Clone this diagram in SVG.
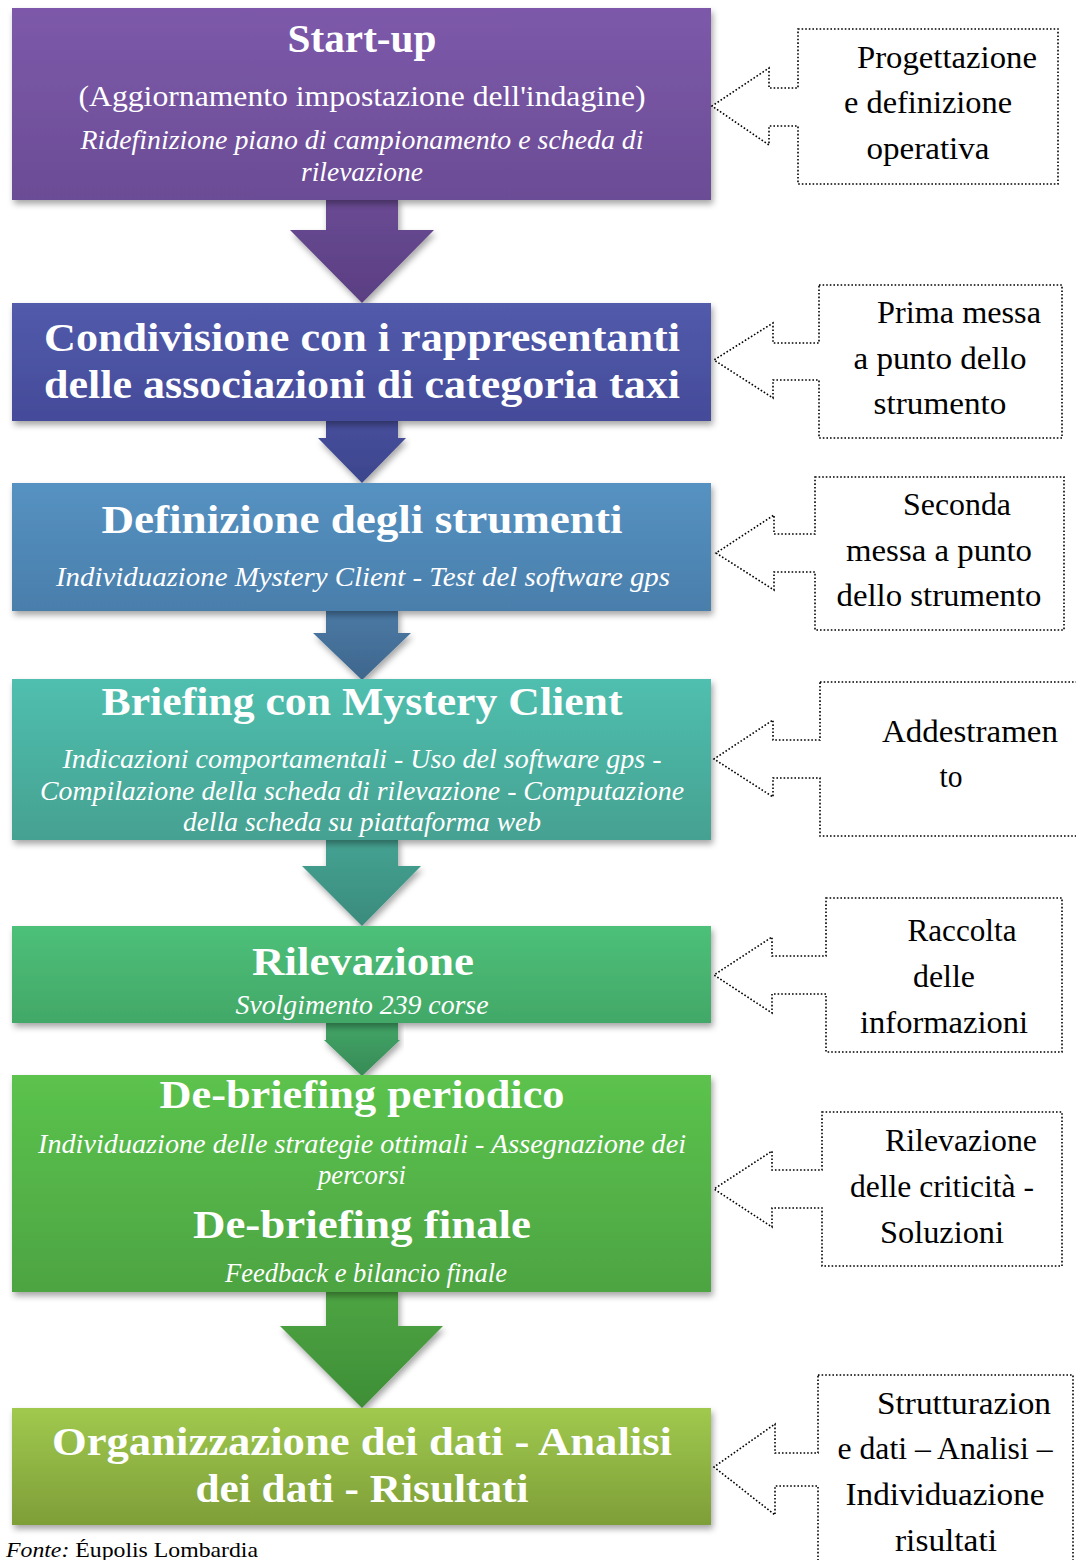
<svg xmlns="http://www.w3.org/2000/svg" width="1076" height="1560" viewBox="0 0 1076 1560">
<defs>
<style>
.h{font-family:"Liberation Serif","DejaVu Serif",serif;font-weight:bold;fill:#fff;text-anchor:middle;font-size:40px}
.s{font-family:"Liberation Serif","DejaVu Serif",serif;fill:#fff;text-anchor:middle;font-size:29px}
.i{font-family:"Liberation Serif","DejaVu Serif",serif;font-style:italic;fill:#fff;text-anchor:middle;font-size:28px}
.c{font-family:"Liberation Serif","DejaVu Serif",serif;fill:#000;text-anchor:middle;font-size:31px}
.co{fill:#fff;stroke:#000;stroke-width:1.6;stroke-dasharray:1.6 2}
</style>
<filter id="sh" x="-5%" y="-10%" width="110%" height="130%">
<feDropShadow dx="2" dy="4" stdDeviation="3" flood-color="#000" flood-opacity="0.35"/>
</filter>
<linearGradient id="g1" x1="0" y1="0" x2="0" y2="1"><stop offset="0" stop-color="#7d59aa"/><stop offset="1" stop-color="#6b4c95"/></linearGradient>
<linearGradient id="a1" x1="0" y1="0" x2="0" y2="1"><stop offset="0" stop-color="#6a4b94"/><stop offset="1" stop-color="#5a3e82"/></linearGradient>
<linearGradient id="g2" x1="0" y1="0" x2="0" y2="1"><stop offset="0" stop-color="#525bab"/><stop offset="1" stop-color="#444b99"/></linearGradient>
<linearGradient id="a2" x1="0" y1="0" x2="0" y2="1"><stop offset="0" stop-color="#474f9c"/><stop offset="1" stop-color="#3c458c"/></linearGradient>
<linearGradient id="g3" x1="0" y1="0" x2="0" y2="1"><stop offset="0" stop-color="#5592c2"/><stop offset="1" stop-color="#4a7eab"/></linearGradient>
<linearGradient id="a3" x1="0" y1="0" x2="0" y2="1"><stop offset="0" stop-color="#4a7aa5"/><stop offset="1" stop-color="#3f668d"/></linearGradient>
<linearGradient id="g4" x1="0" y1="0" x2="0" y2="1"><stop offset="0" stop-color="#50bfaf"/><stop offset="1" stop-color="#45a191"/></linearGradient>
<linearGradient id="a4" x1="0" y1="0" x2="0" y2="1"><stop offset="0" stop-color="#45a393"/><stop offset="1" stop-color="#3a8b7c"/></linearGradient>
<linearGradient id="g5" x1="0" y1="0" x2="0" y2="1"><stop offset="0" stop-color="#4dc079"/><stop offset="1" stop-color="#42a868"/></linearGradient>
<linearGradient id="a5" x1="0" y1="0" x2="0" y2="1"><stop offset="0" stop-color="#42a567"/><stop offset="1" stop-color="#378b56"/></linearGradient>
<linearGradient id="g6" x1="0" y1="0" x2="0" y2="1"><stop offset="0" stop-color="#5bc34d"/><stop offset="1" stop-color="#4da442"/></linearGradient>
<linearGradient id="a6" x1="0" y1="0" x2="0" y2="1"><stop offset="0" stop-color="#4ea543"/><stop offset="1" stop-color="#3e8e36"/></linearGradient>
<linearGradient id="g7" x1="0" y1="0" x2="0" y2="1"><stop offset="0" stop-color="#a0c94e"/><stop offset="1" stop-color="#7e9e38"/></linearGradient>
</defs>
<rect width="1076" height="1560" fill="#fff"/>

<g id="connectors">
<path filter="url(#sh)" fill="url(#a1)" d="M326,198 H398 V230 H434 L362,303 L290,230 H326 Z"/>
<path filter="url(#sh)" fill="url(#a2)" d="M326,419 H398 V438 H406 L362,483 L318,438 H326 Z"/>
<path filter="url(#sh)" fill="url(#a3)" d="M326,609 H398 V633 H411 L362,680 L313,633 H326 Z"/>
<path filter="url(#sh)" fill="url(#a4)" d="M326,838 H398 V866 H421 L362,926 L302,866 H326 Z"/>
<path filter="url(#sh)" fill="url(#a5)" d="M326,1021 H398 V1040 H400 L362,1076 L324,1040 H326 Z"/>
<path filter="url(#sh)" fill="url(#a6)" d="M326,1290 H398 V1326 H443 L362,1408 L280,1326 H326 Z"/>
</g>

<g id="n1">
<rect x="12" y="8" width="699" height="192" fill="url(#g1)" filter="url(#sh)"/>
<text class="h" x="362" y="52" font-size="38" textLength="149" lengthAdjust="spacingAndGlyphs">Start-up</text>
<text class="s" x="362" y="106" textLength="567" lengthAdjust="spacingAndGlyphs">(Aggiornamento impostazione dell'indagine)</text>
<text class="i" x="362" y="149" textLength="563" lengthAdjust="spacingAndGlyphs">Ridefinizione piano di campionamento e scheda di</text>
<text class="i" x="362" y="181" textLength="122" lengthAdjust="spacingAndGlyphs">rilevazione</text>
</g>

<g id="n2">
<rect x="12" y="303" width="699" height="118" fill="url(#g2)" filter="url(#sh)"/>
<text class="h" x="362" y="351" textLength="636" lengthAdjust="spacingAndGlyphs">Condivisione con i rappresentanti</text>
<text class="h" x="362" y="398" textLength="636" lengthAdjust="spacingAndGlyphs">delle associazioni di categoria taxi</text>
</g>

<g id="n3">
<rect x="12" y="483" width="699" height="128" fill="url(#g3)" filter="url(#sh)"/>
<text class="h" x="362" y="533" textLength="521" lengthAdjust="spacingAndGlyphs">Definizione degli strumenti</text>
<text class="i" x="363" y="586" textLength="614" lengthAdjust="spacingAndGlyphs">Individuazione Mystery Client - Test del software gps</text>
</g>

<g id="n4">
<rect x="12" y="679" width="699" height="161" fill="url(#g4)" filter="url(#sh)"/>
<text class="h" x="362" y="715" textLength="521" lengthAdjust="spacingAndGlyphs">Briefing con Mystery Client</text>
<text class="i" x="362" y="768" textLength="599" lengthAdjust="spacingAndGlyphs">Indicazioni comportamentali - Uso del software gps -</text>
<text class="i" x="362" y="800" textLength="644" lengthAdjust="spacingAndGlyphs">Compilazione della scheda di rilevazione - Computazione</text>
<text class="i" x="362" y="831" textLength="358" lengthAdjust="spacingAndGlyphs">della scheda su piattaforma web</text>
</g>

<g id="n5">
<rect x="12" y="926" width="699" height="97" fill="url(#g5)" filter="url(#sh)"/>
<text class="h" x="363" y="975" textLength="222" lengthAdjust="spacingAndGlyphs">Rilevazione</text>
<text class="i" x="362" y="1014" textLength="253" lengthAdjust="spacingAndGlyphs">Svolgimento 239 corse</text>
</g>

<g id="n6">
<rect x="12" y="1075" width="699" height="217" fill="url(#g6)" filter="url(#sh)"/>
<text class="h" x="362" y="1108" textLength="405" lengthAdjust="spacingAndGlyphs">De-briefing periodico</text>
<text class="i" x="362" y="1153" textLength="648" lengthAdjust="spacingAndGlyphs">Individuazione delle strategie ottimali - Assegnazione dei</text>
<text class="i" x="362" y="1184" textLength="88" lengthAdjust="spacingAndGlyphs">percorsi</text>
<text class="h" x="362" y="1238" textLength="338" lengthAdjust="spacingAndGlyphs">De-briefing finale</text>
<text class="i" x="366" y="1282" textLength="282" lengthAdjust="spacingAndGlyphs">Feedback e bilancio finale</text>
</g>

<g id="n7">
<rect x="12" y="1408" width="699" height="117" fill="url(#g7)" filter="url(#sh)"/>
<text class="h" x="362" y="1455" textLength="620" lengthAdjust="spacingAndGlyphs">Organizzazione dei dati - Analisi</text>
<text class="h" x="362" y="1502" textLength="333" lengthAdjust="spacingAndGlyphs">dei dati - Risultati</text>
</g>

<g id="caption">
<text x="6" y="1557" font-family="Liberation Serif, serif" font-size="22" fill="#000" textLength="252" lengthAdjust="spacingAndGlyphs"><tspan font-style="italic">Fonte:</tspan> Éupolis Lombardia</text>
</g>

<g id="c1">
<path class="co" d="M798,29 H1058 V184 H798 V126 H769 V145 L712,106 L769,68 V88 H798 Z"/>
<text class="c" x="947" y="68" textLength="180" lengthAdjust="spacingAndGlyphs">Progettazione</text>
<text class="c" x="928" y="113" textLength="168" lengthAdjust="spacingAndGlyphs">e definizione</text>
<text class="c" x="928" y="159" textLength="123" lengthAdjust="spacingAndGlyphs">operativa</text>
</g>
<g id="c2">
<path class="co" d="M819,285 H1062 V438 H819 V380 H773 V398 L714,360 L773,323 V343 H819 Z"/>
<text class="c" x="959" y="323" textLength="164" lengthAdjust="spacingAndGlyphs">Prima messa</text>
<text class="c" x="940" y="369" textLength="173" lengthAdjust="spacingAndGlyphs">a punto dello</text>
<text class="c" x="940" y="414" textLength="133" lengthAdjust="spacingAndGlyphs">strumento</text>
</g>
<g id="c3">
<path class="co" d="M815,477 H1064 V630 H815 V572 H774 V590 L716,553 L774,515 V534 H815 Z"/>
<text class="c" x="957" y="515" textLength="108" lengthAdjust="spacingAndGlyphs">Seconda</text>
<text class="c" x="939" y="561" textLength="186" lengthAdjust="spacingAndGlyphs">messa a punto</text>
<text class="c" x="939" y="606" textLength="205" lengthAdjust="spacingAndGlyphs">dello strumento</text>
</g>
<g id="c4">
<path class="co" d="M820,682 H1080 V836 H820 V778 H773 V797 L714,759 L773,720 V740 H820 Z"/>
<text class="c" x="970" y="742" textLength="176" lengthAdjust="spacingAndGlyphs">Addestramen</text>
<text class="c" x="951" y="787" textLength="23" lengthAdjust="spacingAndGlyphs">to</text>
</g>
<g id="c5">
<path class="co" d="M826,898 H1062 V1052 H826 V994 H772 V1013 L714,975 L772,937 V956 H826 Z"/>
<text class="c" x="962" y="941" textLength="109" lengthAdjust="spacingAndGlyphs">Raccolta</text>
<text class="c" x="944" y="987" textLength="62" lengthAdjust="spacingAndGlyphs">delle</text>
<text class="c" x="944" y="1033" textLength="168" lengthAdjust="spacingAndGlyphs">informazioni</text>
</g>
<g id="c6">
<path class="co" d="M822,1112 H1062 V1266 H822 V1208 H772 V1227 L714,1189 L772,1151 V1170 H822 Z"/>
<text class="c" x="961" y="1151" textLength="152" lengthAdjust="spacingAndGlyphs">Rilevazione</text>
<text class="c" x="942" y="1197" textLength="184" lengthAdjust="spacingAndGlyphs">delle criticità -</text>
<text class="c" x="942" y="1243" textLength="124" lengthAdjust="spacingAndGlyphs">Soluzioni</text>
</g>
<g id="c7">
<path class="co" d="M818,1375 H1073 V1580 H818 V1486 H775 V1515 L714,1467 L775,1424 V1453 H818 Z"/>
<text class="c" x="964" y="1414" textLength="174" lengthAdjust="spacingAndGlyphs">Strutturazion</text>
<text class="c" x="945" y="1459" textLength="215" lengthAdjust="spacingAndGlyphs">e dati – Analisi –</text>
<text class="c" x="945" y="1505" textLength="199" lengthAdjust="spacingAndGlyphs">Individuazione</text>
<text class="c" x="946" y="1551" textLength="102" lengthAdjust="spacingAndGlyphs">risultati</text>
</g>
</svg>
